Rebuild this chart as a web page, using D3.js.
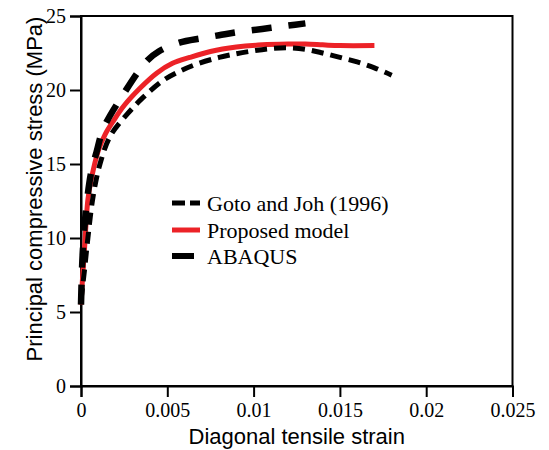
<!DOCTYPE html>
<html><head><meta charset="utf-8">
<script src="https://cdn.jsdelivr.net/npm/d3@7"></script>
<style>body{margin:0;background:#fff}svg{display:block}</style>
</head><body><svg id="c" width="549" height="450"></svg>
<script>
const xTicks = [0, 0.005, 0.01, 0.015, 0.02, 0.025];
const xTickLabels = ["0", "0.005", "0.01", "0.015", "0.02", "0.025"];
const yTicks = [0, 5, 10, 15, 20, 25];
const seriesNames = ["Goto and Joh (1996)", "Proposed model", "ABAQUS"];

const gotoStrain = [0, 0.0002, 0.0004, 0.0007, 0.0011, 0.0017, 0.0027, 0.0036, 0.0047, 0.0056, 0.0067, 0.008, 0.009, 0.010, 0.011, 0.012, 0.013, 0.014, 0.015, 0.016, 0.017, 0.018];
const gotoStress = [5.8, 7.8, 10.0, 12.8, 15.0, 16.9, 18.4, 19.5, 20.6, 21.2, 21.75, 22.2, 22.45, 22.65, 22.8, 22.85, 22.75, 22.5, 22.2, 21.9, 21.5, 21.0];

const propStrain = [0, 0.0001, 0.0002, 0.0004, 0.0006, 0.001, 0.0014, 0.0019, 0.0025, 0.0034, 0.0044, 0.0053, 0.0063, 0.0075, 0.009, 0.0105, 0.012, 0.013, 0.014, 0.015, 0.017];
const propStress = [5.5, 7.5, 9.2, 12.6, 14.0, 15.9, 17.0, 17.95, 18.95, 20.1, 21.15, 21.8, 22.2, 22.6, 22.9, 23.05, 23.1, 23.1, 23.05, 23.0, 23.0];

const abaqusStrain = [0, 0.0001, 0.0003, 0.0006, 0.0009, 0.0013, 0.0025, 0.0038, 0.0045, 0.0057, 0.007, 0.008, 0.009, 0.010, 0.011, 0.012, 0.013];
const abaqusStress = [5.5, 9.0, 12.0, 14.5, 15.8, 17.4, 19.8, 21.95, 22.6, 23.2, 23.5, 23.7, 23.9, 24.05, 24.2, 24.35, 24.5];

const svg = d3.select("#c");
const L = 81, T = 16, R = 512.5, B = 386;
const x = d3.scaleLinear().domain([0, 0.025]).range([L, R]);
const y = d3.scaleLinear().domain([0, 25]).range([B, T]);

const serif = "'Liberation Serif','Times New Roman',serif";
const sans = "'Liberation Sans',Arial,sans-serif";

// frame
svg.append("rect").attr("x", L).attr("y", T).attr("width", R - L).attr("height", B - T)
  .attr("fill", "none").attr("stroke", "#000").attr("stroke-width", 2);

const xAxis = svg.append("g").attr("transform", `translate(0,${B})`)
  .call(d3.axisBottom(x).tickValues(xTicks).tickFormat((d, i) => xTickLabels[i]).tickSize(11).tickPadding(6));
const yAxis = svg.append("g").attr("transform", `translate(${L},0)`)
  .call(d3.axisLeft(y).tickValues(yTicks).tickSize(11).tickPadding(4));
[xAxis, yAxis].forEach(g => {
  g.attr("font-family", serif).attr("font-size", 20);
  g.select(".domain").attr("stroke-width", 2);
  g.selectAll(".tick line").attr("stroke-width", 2);
  g.selectAll(".tick text").attr("fill", "#000");
});

const line = d3.line().x(d => x(d[0])).y(d => y(d[1])).curve(d3.curveCatmullRom.alpha(0.5));
const zip = (a, b) => a.map((v, i) => [v, b[i]]);

const red = "#ec2227";
svg.append("path").attr("d", line(zip(propStrain, propStress)))
  .attr("fill", "none").attr("stroke", red).attr("stroke-width", 5);
svg.append("path").attr("d", line(zip(gotoStrain, gotoStress)))
  .attr("fill", "none").attr("stroke", "#000").attr("stroke-width", 5).attr("stroke-dasharray", "12,7");
svg.append("path").attr("d", line(zip(abaqusStrain, abaqusStress)))
  .attr("fill", "none").attr("stroke", "#000").attr("stroke-width", 6.5).attr("stroke-dasharray", "20,17");

// legend
const leg = svg.append("g");
const rows = [203, 230, 256];
leg.append("line").attr("x1", 172).attr("x2", 200).attr("y1", rows[0]).attr("y2", rows[0])
  .attr("stroke", "#000").attr("stroke-width", 5).attr("stroke-dasharray", "13,5");
leg.append("line").attr("x1", 172).attr("x2", 200).attr("y1", rows[1]).attr("y2", rows[1])
  .attr("stroke", red).attr("stroke-width", 5);
leg.append("line").attr("x1", 172).attr("x2", 194).attr("y1", rows[2]).attr("y2", rows[2])
  .attr("stroke", "#000").attr("stroke-width", 6);
seriesNames.forEach((n, i) => {
  leg.append("text").attr("x", 207).attr("y", rows[i] + 8).text(n)
    .attr("font-family", serif).attr("font-size", 22).attr("fill", "#000");
});

svg.append("text").attr("x", (L + R) / 2).attr("y", 444).attr("text-anchor", "middle")
  .attr("font-family", sans).attr("font-size", 22).text("Diagonal tensile strain");
svg.append("text").attr("transform", `translate(42,${(T + B) / 2 - 12}) rotate(-90)`).attr("text-anchor", "middle")
  .attr("font-family", sans).attr("font-size", 22).text("Principal compressive stress (MPa)");
</script></body></html>
